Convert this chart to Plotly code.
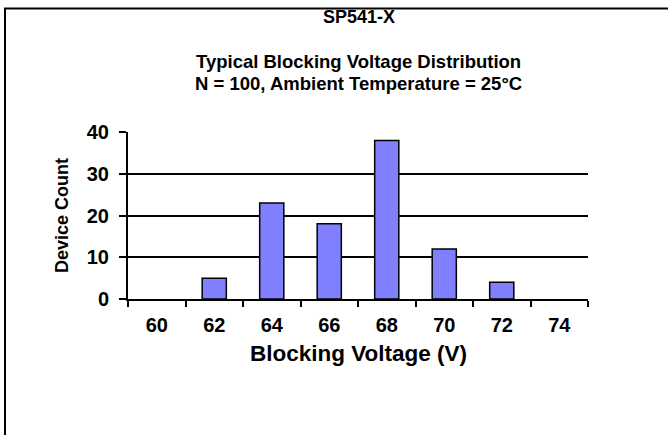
import plotly.graph_objects as go

voltages = ["60", "62", "64", "66", "68", "70", "72", "74"]
counts = [0, 5, 23, 18, 38, 12, 4, 0]
y_ticks = [0, 10, 20, 30, 40]

title_main = "SP541-X"
title_sub1 = "Typical Blocking Voltage Distribution"
title_sub2 = "N = 100, Ambient Temperature = 25°C"
x_title = "Blocking Voltage (V)"
y_title = "Device Count"

W, H = 668, 435
L, T = 128, 132
pw, ph = 460, 167
R, B = W - L - pw, H - T - ph

def px_x(p):
    return (p - L) / pw

def px_y(p):
    return (T + ph - p) / ph

FONT = "Liberation Sans, Arial, sans-serif"

fig = go.Figure(
    go.Bar(
        x=voltages,
        y=counts,
        marker=dict(color="#8080FF",
                    line=dict(color="black", width=[1.5 if c > 0 else 0 for c in counts])),
        hoverinfo="x+y",
    )
)

fig.update_layout(
    width=W,
    height=H,
    margin=dict(l=L, r=R, t=T, b=B, pad=0),
    paper_bgcolor="white",
    plot_bgcolor="white",
    bargap=0.58,
    showlegend=False,
    font=dict(family=FONT, color="black"),
)

fig.update_xaxes(
    type="category",
    tickson="boundaries",
    ticks="outside",
    ticklen=6,
    tickwidth=1.5,
    tickcolor="black",
    showline=True,
    linecolor="black",
    linewidth=2,
    showgrid=False,
    tickfont=dict(family=FONT, size=20, color="black", weight="bold"),
    ticklabelstandoff=7,
)

fig.update_yaxes(
    range=[0, 40.01],
    tickvals=y_ticks,
    ticks="outside",
    ticklen=7,
    tickwidth=1.5,
    tickcolor="black",
    showline=True,
    linecolor="black",
    linewidth=2,
    showgrid=True,
    gridcolor="black",
    gridwidth=1.5,
    zeroline=False,
    tickfont=dict(family=FONT, size=20, color="black", weight="bold"),
    ticklabelstandoff=6,
)

ann = []
def add_text(text, x, y, size, angle=0):
    ann.append(dict(
        text="<b>%s</b>" % text, x=x, y=y, xref="paper", yref="paper",
        xanchor="center", yanchor="middle", showarrow=False, textangle=angle,
        font=dict(family=FONT, size=size, color="black"),
    ))

add_text(title_main, px_x(359), px_y(17), 18)
add_text(title_sub1, px_x(358), px_y(61), 18.5)
add_text(title_sub2, px_x(358), px_y(83), 18.5)
add_text(x_title, px_x(358), px_y(353), 22.5)
add_text(y_title, px_x(62), px_y(216), 18, angle=-90)
fig.update_layout(annotations=ann)

# outer frame (only top and left edges fall inside the picture)
fig.add_shape(type="rect", xref="paper", yref="paper",
              x0=px_x(5), y0=px_y(8.5), x1=px_x(700), y1=px_y(470),
              line=dict(color="black", width=2), fillcolor="rgba(0,0,0,0)")

fig.write_html(
    "out.html",
    config={"displayModeBar": False},
    post_script="document.body.style.margin='0';document.body.style.overflow='hidden';",
)
